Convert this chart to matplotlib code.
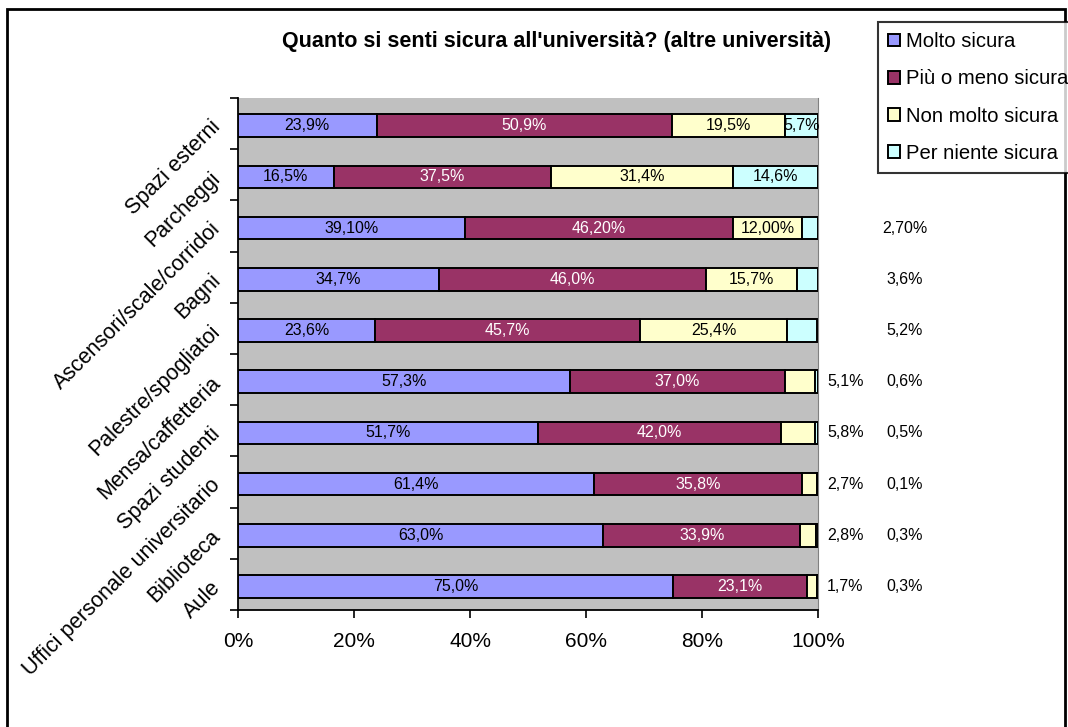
import numpy as np
import matplotlib
matplotlib.use('Agg')
import matplotlib.pyplot as plt
from matplotlib.patches import Rectangle

plt.rcParams['font.family'] = ['Liberation Sans', 'DejaVu Sans']

# categories, top to bottom
categories = ['Spazi esterni', 'Parcheggi', 'Ascensori/scale/corridoi', 'Bagni',
              'Palestre/spogliatoi', 'Mensa/caffetteria', 'Spazi studenti',
              'Uffici personale universitario', 'Biblioteca', 'Aule']
series = ['Molto sicura', 'Più o meno sicura', 'Non molto sicura', 'Per niente sicura']
molto = [23.9, 16.5, 39.1, 34.7, 23.6, 57.3, 51.7, 61.4, 63.0, 75.0]
piu_meno = [50.9, 37.5, 46.2, 46.0, 45.7, 37.0, 42.0, 35.8, 33.9, 23.1]
non_molto = [19.5, 31.4, 12.0, 15.7, 25.4, 5.1, 5.8, 2.7, 2.8, 1.7]
per_niente = [5.7, 14.6, 2.7, 3.6, 5.2, 0.6, 0.5, 0.1, 0.3, 0.3]
# label text as printed (Ascensori row uses two decimals)
two_dec = [False, False, True, False, False, False, False, False, False, False]

colors = ['#9999FF', '#993366', '#FFFFCC', '#CCFFFF']
text_colors = ['black', 'white', 'black', 'black']

def fmt(v, two):
    s = f'{v:.2f}%' if two else f'{v:.1f}%'
    return s.replace('.', ',')

fig = plt.figure(figsize=(10.68, 7.27), dpi=100)
ax = fig.add_axes([238 / 1068, 117 / 727, 580 / 1068, 512 / 727])
ax.set_facecolor('#C0C0C0')

y = np.arange(len(categories)) + 0.04
data = [molto, piu_meno, non_molto, per_niente]
left = np.zeros(len(categories))
for k, vals in enumerate(data):
    vals = np.array(vals)
    ax.barh(y, vals, left=left, height=0.44, color=colors[k], edgecolor='black',
            linewidth=1.4, label=series[k], zorder=3)
    for i, v in enumerate(vals):
        txt = fmt(v, two_dec[i])
        if v >= 5.5 and not (k == 2 and v < 6):
            ax.text(left[i] + v / 2, y[i], txt, ha='center', va='center', fontsize=11.5,
                    color=text_colors[k], zorder=4)
        elif k == 2:
            ax.text(104.7, y[i], txt, ha='center', va='center', fontsize=11.5, clip_on=False)
        else:
            ax.text(115, y[i], txt, ha='center', va='center', fontsize=11.5, clip_on=False)
    left += vals

ax.set_xlim(0, 100)
ax.set_ylim(len(categories) - 0.5, -0.5)
ax.set_xticks(np.arange(0, 101, 20))
ax.set_xticklabels([f'{t}%' for t in range(0, 101, 20)], fontsize=15)
ax.tick_params(axis='x', direction='out', length=6, width=1.2, pad=10)

ax.set_yticks(np.arange(-0.5, len(categories), 1.0))
ax.set_yticklabels([])
ax.tick_params(axis='y', which='major', direction='out', length=6, width=1.2)
ax.set_yticks(np.arange(len(categories)), minor=True)
ax.set_yticklabels(categories, minor=True, fontsize=15.5, rotation=45,
                   ha='right', va='center', rotation_mode='anchor')
ax.tick_params(axis='y', which='minor', length=0, pad=15)

ax.spines['top'].set_visible(False)
ax.spines['right'].set_color('#808080')
ax.spines['left'].set_linewidth(1.3)
ax.spines['bottom'].set_linewidth(1.3)

fig.text(557 / 1068, 1 - 41 / 727, "Quanto si senti sicura all'università? (altre università)",
         ha='center', va='center', fontsize=15.5, fontweight='bold')

leg = fig.legend(loc='upper left', bbox_to_anchor=(878 / 1068, 1 - 22 / 727),
                 borderaxespad=0, fontsize=14.6, frameon=True, fancybox=False,
                 handlelength=0.6, handleheight=0.6, handletextpad=0.3,
                 labelspacing=0.9, borderpad=0.5, edgecolor='black')
leg.get_frame().set_linewidth(1.5)

fig.patches.append(Rectangle((7 / 1068, -0.05), 1058 / 1068, 1.05 - 9 / 727,
                             transform=fig.transFigure, fill=False,
                             edgecolor='black', linewidth=2))

fig.savefig('out.png', dpi=100)
